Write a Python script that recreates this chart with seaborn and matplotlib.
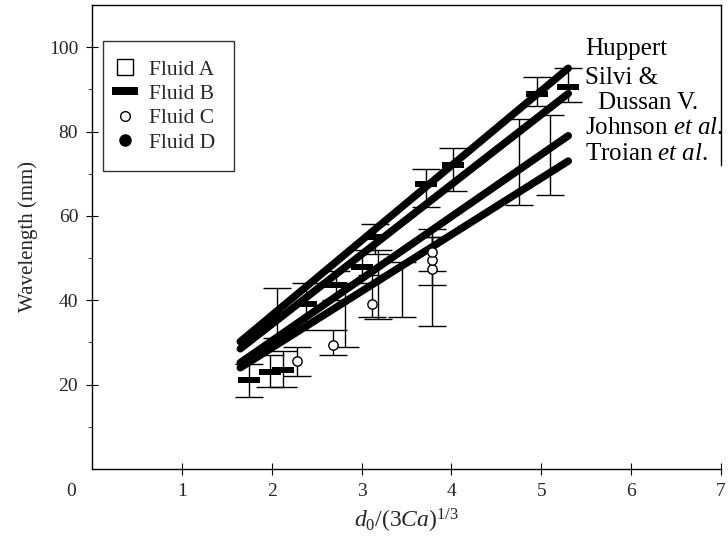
import numpy as np
import pandas as pd
import seaborn as sns
import matplotlib.pyplot as plt
from matplotlib.lines import Line2D

# === Theory lines (endpoints) ===
line_names = ["Huppert", "Silvi & Dussan V.", "Johnson et al.", "Troian et al."]
line_x = [1.65, 5.3]
line_y = [[30.2, 95.0], [28.5, 89.0], [25.2, 79.0], [24.0, 73.0]]

# === Measured wavelengths (y, lower whisker, upper whisker) ===
# Fluid A markers are hidden under the lines in the original, only bars show
a_x = [2.82, 3.18, 3.45, 4.75, 5.10]
a_y = [36.5, 44.0, 46.0, 72.5, 74.0]
a_lo = [29.0, 35.5, 36.0, 62.5, 65.0]
a_hi = [44.0, 52.0, 49.0, 83.0, 84.0]

b_x = [1.75, 1.98, 2.12, 2.38, 2.72, 3.00, 3.15, 3.72, 4.02, 4.95, 5.30]
b_y = [21.0, 23.0, 23.5, 39.0, 43.5, 48.0, 55.0, 67.5, 72.0, 89.0, 90.5]
b_lo = [17.0, 19.5, 19.5, 33.0, 40.0, 44.0, 51.0, 62.0, 66.0, 86.0, 87.0]
b_hi = [25.0, 27.0, 28.0, 44.0, 47.0, 52.0, 58.0, 71.0, 76.0, 93.0, 95.0]

c_x = [2.28, 2.68, 3.12, 3.78, 3.78, 3.78]
c_y = [25.5, 29.5, 39.0, 47.5, 49.5, 51.5]
c_lo = [22.0, 27.0, 36.0, 43.5, 34.0, 47.0]
c_hi = [29.0, 33.0, 46.0, 55.0, 57.0, 55.0]

d_x = [2.06]
d_y = [37.0]
d_lo = [31.0]
d_hi = [43.0]

x_ticks = [1, 2, 3, 4, 5, 6, 7]
y_ticks = [20, 40, 60, 80, 100]

sns.set_theme(style="ticks")
plt.rcParams["font.family"] = ["Liberation Serif", "DejaVu Serif"]
plt.rcParams["mathtext.fontset"] = "custom"
plt.rcParams["mathtext.rm"] = "Liberation Serif"
plt.rcParams["mathtext.it"] = "Liberation Serif:italic"

fig = plt.figure(figsize=(7.28, 5.41), dpi=100)
ax = fig.add_axes([0.1264, 0.1331, 0.8640, 0.8577])

# === theory lines ===
lines_df = pd.DataFrame({
    "model": np.repeat(line_names, 2),
    "x": line_x * len(line_names),
    "y": np.ravel(line_y),
})
sns.lineplot(data=lines_df, x="x", y="y", units="model", estimator=None,
             color="black", lw=5.4, legend=False, ax=ax, zorder=3)

# === error bars ===
for xs, ys, lo, hi in [(a_x, a_y, a_lo, a_hi), (b_x, b_y, b_lo, b_hi),
                       (c_x, c_y, c_lo, c_hi), (d_x, d_y, d_lo, d_hi)]:
    ys = np.array(ys)
    err = [ys - np.array(lo), np.array(hi) - ys]
    ax.errorbar(xs, ys, yerr=err, fmt="none", ecolor="black",
                elinewidth=1.0, capsize=10, capthick=1.0, zorder=2)

# === markers ===
bar = [(-1, -0.27), (1, -0.27), (1, 0.27), (-1, 0.27)]
sns.scatterplot(x=b_x, y=b_y, marker=bar, s=260, color="black",
                linewidth=0, ax=ax, zorder=4)
sns.scatterplot(x=c_x, y=c_y, marker="o", s=45, facecolor="white",
                edgecolor="black", linewidth=1.0, ax=ax, zorder=4)
sns.scatterplot(x=d_x, y=d_y, marker="o", s=55, color="black",
                linewidth=0, ax=ax, zorder=4)

# === legend ===
handles = [
    Line2D([], [], ls="none", marker="s", ms=12, mfc="white", mec="black", mew=1.0),
    Line2D([], [], ls="none", marker=bar, ms=19, mfc="black", mec="black", mew=0),
    Line2D([], [], ls="none", marker="o", ms=7, mfc="white", mec="black", mew=1.0),
    Line2D([], [], ls="none", marker="o", ms=8, mfc="black", mec="black"),
]
leg = ax.legend(handles, ["Fluid A", "Fluid B", "Fluid C", "Fluid D"],
                loc="upper left", bbox_to_anchor=(0.017, 0.922),
                borderaxespad=0, fontsize=15.5,
                frameon=True, fancybox=False, edgecolor="black",
                borderpad=0.85, labelspacing=0.2, handletextpad=0.95,
                handlelength=0.35)
leg.get_frame().set_linewidth(1.0)
leg.set_zorder(5)

# === line labels ===
lab_kw = dict(fontsize=18, va="center", ha="left", color="black")
ax.text(5.49, 99.6, "Huppert", **lab_kw)
ax.text(5.49, 92.6, "Silvi &", **lab_kw)
ax.text(5.63, 86.8, "Dussan V.", **lab_kw)
ax.text(5.49, 80.8, r"Johnson $\mathit{et\ al.}$", **lab_kw)
ax.text(5.49, 74.6, r"Troian $\mathit{et\ al.}$", **lab_kw)

# === axes ===
ax.set_xlim(0, 7)
ax.set_ylim(0, 110)
ax.set_xticks(x_ticks)
ax.set_yticks(y_ticks)
ax.set_yticks([10, 30, 50, 70, 90], minor=True)
ax.tick_params(axis="both", which="major", direction="inout", length=8,
               width=0.8, labelsize=14, color="black", pad=6)
ax.tick_params(axis="y", which="minor", direction="out", length=3, width=0.6)
ax.text(-0.23, -5.4, "0", fontsize=14, ha="center", va="center",
        clip_on=False)
for sp in ax.spines.values():
    sp.set_linewidth(1.0)
    sp.set_color("black")
ax.spines["right"].set_bounds(72, 110)

ax.set_xlabel(r"$d_0/(3Ca)^{1/3}$", fontsize=17, labelpad=5)
ax.set_ylabel("Wavelength (mm)", fontsize=15, labelpad=8)

fig.savefig("out.png", dpi=100)
